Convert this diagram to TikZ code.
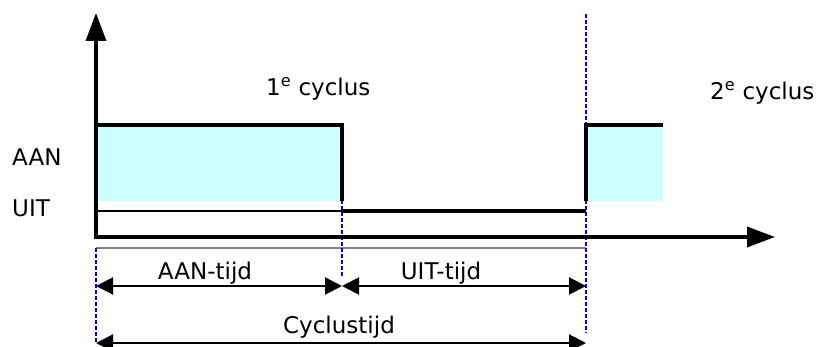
\documentclass[tikz,border=0pt]{standalone}
\usepackage{fontspec}
\setmainfont{DejaVu Sans}
\usetikzlibrary{arrows.meta}
\definecolor{pulsefill}{RGB}{204,255,255}
\definecolor{guideblue}{RGB}{0,0,255}
\begin{document}
\begin{tikzpicture}[x=1pt,y=-1pt,
  lbl/.style={font=\fontsize{23}{27}\selectfont, inner sep=0pt},
  axisline/.style={line width=3.5pt, -{Triangle[length=28pt,width=20pt]}},
  sigline/.style={line width=3.5pt, line join=miter},
  thinsig/.style={line width=2pt},
  guide/.style={guideblue, line width=1.4pt, dash pattern=on 4pt off 2pt},
  grayline/.style={black!50, line width=1.5pt},
  dimline/.style={line width=2pt, {Triangle[length=17pt,width=17pt]}-{Triangle[length=17pt,width=17pt]}}]
\useasboundingbox (0,0) rectangle (818,347);
% coordinates
\coordinate (O) at (96,237);
\coordinate (Ytop) at (96,13);
\coordinate (Xend) at (775,237);
\coordinate (t0) at (96,286);
\coordinate (t1) at (342,286);
\coordinate (t2) at (586,286);
\coordinate (c0) at (96,343);
\coordinate (c2) at (586,343);
% fills
\fill[pulsefill] (96,125) rectangle (342,201);
\fill[pulsefill] (586,125) rectangle (663,201);
% guides
\draw[grayline] (96,248) -- (586,248);
\draw[guide] (342,200) -- (342,276);
\draw[guide] (586,14) -- (586,333);
\draw[guide] (96,248) -- (96,343);
% signal
\draw[sigline] (96,125) -- (342,125) -- (342,201);
\draw[thinsig] (96,211) -- (342,211);
\draw[sigline] (342,211) -- (586,211);
\draw[sigline] (586,201) -- (586,125) -- (663,125);
% axes
\draw[axisline] (O) -- (Ytop);
\draw[axisline] ([xshift=-1.75pt]O) -- (Xend);
% dimension arrows
\draw[dimline] (t0) -- (t1);
\draw[dimline] (t1) -- (t2);
\draw[dimline] (c0) -- (c2);
% labels
\node[lbl, anchor=base west] (aan) at (12,166) {AAN};
\node[lbl, anchor=base west] (uit) at (12,216) {UIT};
\node[lbl, anchor=base west] (cyc1) at (266,96) {1\textsuperscript{e} cyclus};
\node[lbl, anchor=base west] (cyc2) at (710,100) {2\textsuperscript{e} cyclus};
\node[lbl, anchor=base] (aant) at (205,279) {AAN-tijd};
\node[lbl, anchor=base] (uitt) at (441,279) {UIT-tijd};
\node[lbl, anchor=base] (cyct) at (339,333) {Cyclustijd};
\end{tikzpicture}
\end{document}
